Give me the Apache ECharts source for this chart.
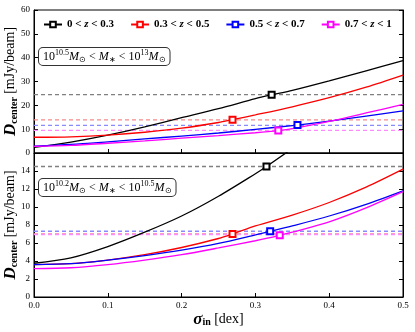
<!DOCTYPE html>
<html>
<head>
<meta charset="utf-8">
<script src="https://cdn.jsdelivr.net/npm/echarts@6/dist/echarts.min.js"></script>
<style>
  html, body { margin: 0; padding: 0; background: #fff; }
  #chart { width: 415px; height: 332px; }
</style>
</head>
<body>
<div id="chart"></div>
<script>
// x grid (sigma_in, dex)
const xs = [0, 0.05, 0.1, 0.15, 0.2, 0.25, 0.3, 0.35, 0.4, 0.45, 0.5]

// legend labels
const zBins = [['0', '0.3'], ['0.3', '0.5'], ['0.5', '0.7'], ['0.7', '1']]
const colors = ['#000000', '#ff0000', '#0000ff', '#ff00ff']
const dashColors = ['#808080', '#f48a8a', '#8a8aff', '#ff8aff']

// top panel: 10^10.5 < M* < 10^13
const topBlack = [2.4, 4.6, 7.5, 11.0, 14.8, 18.6, 22.8, 26.3, 30.3, 34.5, 38.8]
const topRed = [6.6, 6.8, 7.5, 8.7, 10.4, 12.8, 16.0, 19.4, 23.2, 27.6, 32.7]
const topBlue = [2.9, 3.6, 4.7, 5.9, 7.1, 8.4, 9.9, 11.5, 13.4, 15.5, 17.7]
const topMagenta = [2.8, 3.2, 4.1, 5.1, 6.2, 7.3, 8.5, 10.2, 13.3, 16.8, 20.4]
const topMarkers = [[0.322, 24.4], [0.269, 14.0], [0.357, 11.7], [0.331, 9.4]]
const topLevels = [24.5, 13.9, 11.6, 9.5]

// bottom panel: 10^10.2 < M* < 10^10.5
const botBlack = [3.75, 4.35, 5.6, 7.2, 9.0, 11.2, 13.7, 16.5, 19.4]
const botRed = [3.6, 3.7, 4.1, 4.7, 5.5, 6.5, 7.9, 9.1, 10.5, 12.2, 14.2]
const botBlue = [3.6, 3.7, 4.1, 4.6, 5.2, 5.95, 6.9, 7.9, 9.0, 10.3, 11.8]
const botMagenta = [3.15, 3.25, 3.6, 4.1, 4.7, 5.45, 6.25, 7.2, 8.35, 9.9, 11.7]
const botMarkers = [[0.315, 14.5], [0.269, 7.0], [0.32, 7.3], [0.333, 6.85]]
const botLevels = [14.5, 7.0, 7.3, 6.95]

const serif = 'Liberation Serif'
const legendNames = zBins.map(b => b[0] + ' < z < ' + b[1])

// 曲线 + 单个方形标记
const curve = (name, color, vals, marker, gi) => {
  const pts = vals.map((v, i) => ({ value: [xs[i], v], symbol: 'none' }))
  pts.push({ value: marker, symbol: 'emptyRect' })
  pts.sort((a, b) => a.value[0] - b.value[0])
  return {
    name: name,
    type: 'line',
    xAxisIndex: gi,
    yAxisIndex: gi * 2,
    data: pts,
    smooth: 0.3,
    symbol: 'emptyRect',
    symbolSize: 6,
    showSymbol: true,
    showAllSymbol: true,
    clip: true,
    lineStyle: { color: color, width: 1.3 },
    itemStyle: { color: color, borderWidth: 1.3 },
    z: 3
  }
}

// 水平虚线
const level = (v, color, gi, k) => ({
  name: 'level' + gi + k,
  type: 'line',
  xAxisIndex: gi,
  yAxisIndex: gi * 2,
  data: [[0, v], [0.5, v]],
  symbol: 'none',
  lineStyle: { color: color, width: 1.4, type: [4, 3] },
  z: 2
})

const topVals = [topBlack, topRed, topBlue, topMagenta]
const botVals = [botBlack, botRed, botBlue, botMagenta]

const series = []
topVals.forEach((v, k) => series.push(level(topLevels[k], dashColors[k], 0, k)))
botVals.forEach((v, k) => series.push(level(botLevels[k], dashColors[k], 1, k)))
topVals.forEach((v, k) => series.push(curve(legendNames[k], colors[k], v, topMarkers[k], 0)))
botVals.forEach((v, k) => series.push(curve(legendNames[k], colors[k], v, botMarkers[k], 1)))

const axisText = { fontFamily: serif, fontSize: 9, color: '#000' }
const titleRich = {
  d: { fontFamily: serif, fontSize: 17, fontWeight: 'bold', fontStyle: 'italic', color: '#000', lineHeight: 17 },
  s: { fontFamily: serif, fontSize: 10, fontWeight: 'bold', color: '#000', verticalAlign: 'bottom', lineHeight: 17 },
  u: { fontFamily: serif, fontSize: 14, color: '#000', lineHeight: 17 }
}

const yAxis = (gi, max, interval, right) => ({
  type: 'value',
  gridIndex: gi,
  position: right ? 'right' : 'left',
  min: 0,
  max: max,
  interval: interval,
  axisLine: { show: true, lineStyle: { color: '#000', width: 1 } },
  axisTick: { show: true, inside: true, length: 4, lineStyle: { color: '#000' } },
  axisLabel: right ? { show: false } : Object.assign({
    margin: 4,
    formatter: v => (v === max && gi === 1) ? '' : String(v)
  }, axisText),
  splitLine: { show: false },
  name: right ? '' : '{d|D}{s|center} {u|[mJy/beam]}',
  nameLocation: 'middle',
  nameGap: 15,
  nameRotate: 90,
  nameMoveOverlap: false,
  nameTextStyle: { rich: titleRich }
})

const xAxis = (gi) => ({
  type: 'value',
  gridIndex: gi,
  min: 0,
  max: 0.5,
  interval: 0.1,
  axisLine: { show: true, lineStyle: { color: '#000', width: 1 } },
  axisTick: { show: true, inside: true, length: 4, lineStyle: { color: '#000' } },
  axisLabel: gi === 1 ? Object.assign({ margin: 4, formatter: v => v.toFixed(1) }, axisText) : { show: false },
  splitLine: { show: false },
  name: gi === 1 ? '{d|σ}{s|in} {u|[dex]}' : '',
  nameLocation: 'middle',
  nameGap: 10,
  nameTextStyle: { rich: titleRich }
})

const boxRich = {
  n: { fontFamily: serif, fontSize: 12, color: '#000', lineHeight: 15 },
  i: { fontFamily: serif, fontSize: 12, fontStyle: 'italic', color: '#000', lineHeight: 15 },
  p: { fontFamily: serif, fontSize: 8, color: '#000', verticalAlign: 'top', lineHeight: 15 },
  b: { fontFamily: serif, fontSize: 8, color: '#000', verticalAlign: 'bottom', lineHeight: 15 }
}
const massBox = (y, lo, hi) => ({
  type: 'text',
  left: 38,
  top: y,
  z: 10,
  style: {
    text: '{n|10}{p|' + lo + '}{i|M}{b|⊙}{n| < }{i|M}{b|∗}{n| < 10}{p|' + hi + '}{i|M}{b|⊙}',
    rich: boxRich,
    backgroundColor: '#fff',
    borderColor: '#333',
    borderWidth: 1,
    borderRadius: 4,
    padding: [1, 4, 1, 4]
  }
})

const chart = echarts.init(document.getElementById('chart'), null, { renderer: 'canvas' })
chart.setOption({
  animation: false,
  backgroundColor: '#fff',
  grid: [
    { left: 34, top: 10, width: 369, height: 143, show: true, borderColor: '#000', borderWidth: 1, containLabel: false, outerBoundsMode: 'none' },
    { left: 34, top: 153, width: 369, height: 144, show: true, borderColor: '#000', borderWidth: 1, containLabel: false, outerBoundsMode: 'none' }
  ],
  xAxis: [xAxis(0), xAxis(1)],
  yAxis: [yAxis(0, 60, 10, false), yAxis(0, 60, 10, true), yAxis(1, 16, 2, false), yAxis(1, 16, 2, true)],
  legend: {
    data: legendNames,
    left: 38,
    top: 14,
    itemWidth: 18,
    itemHeight: 7,
    itemGap: 16,
    formatter: name => {
      const p = name.split(' < z < ')
      return '{n|' + p[0] + ' < }{i|z}{n| < ' + p[1] + '}'
    },
    textStyle: {
      rich: {
        n: { fontFamily: serif, fontSize: 11, fontWeight: 'bold', color: '#000' },
        i: { fontFamily: serif, fontSize: 11, fontWeight: 'bold', fontStyle: 'italic', color: '#000' }
      }
    }
  },
  graphic: [massBox(47, '10.5', '13'), massBox(178, '10.2', '10.5')],
  series: series
})
</script>
</body>
</html>
